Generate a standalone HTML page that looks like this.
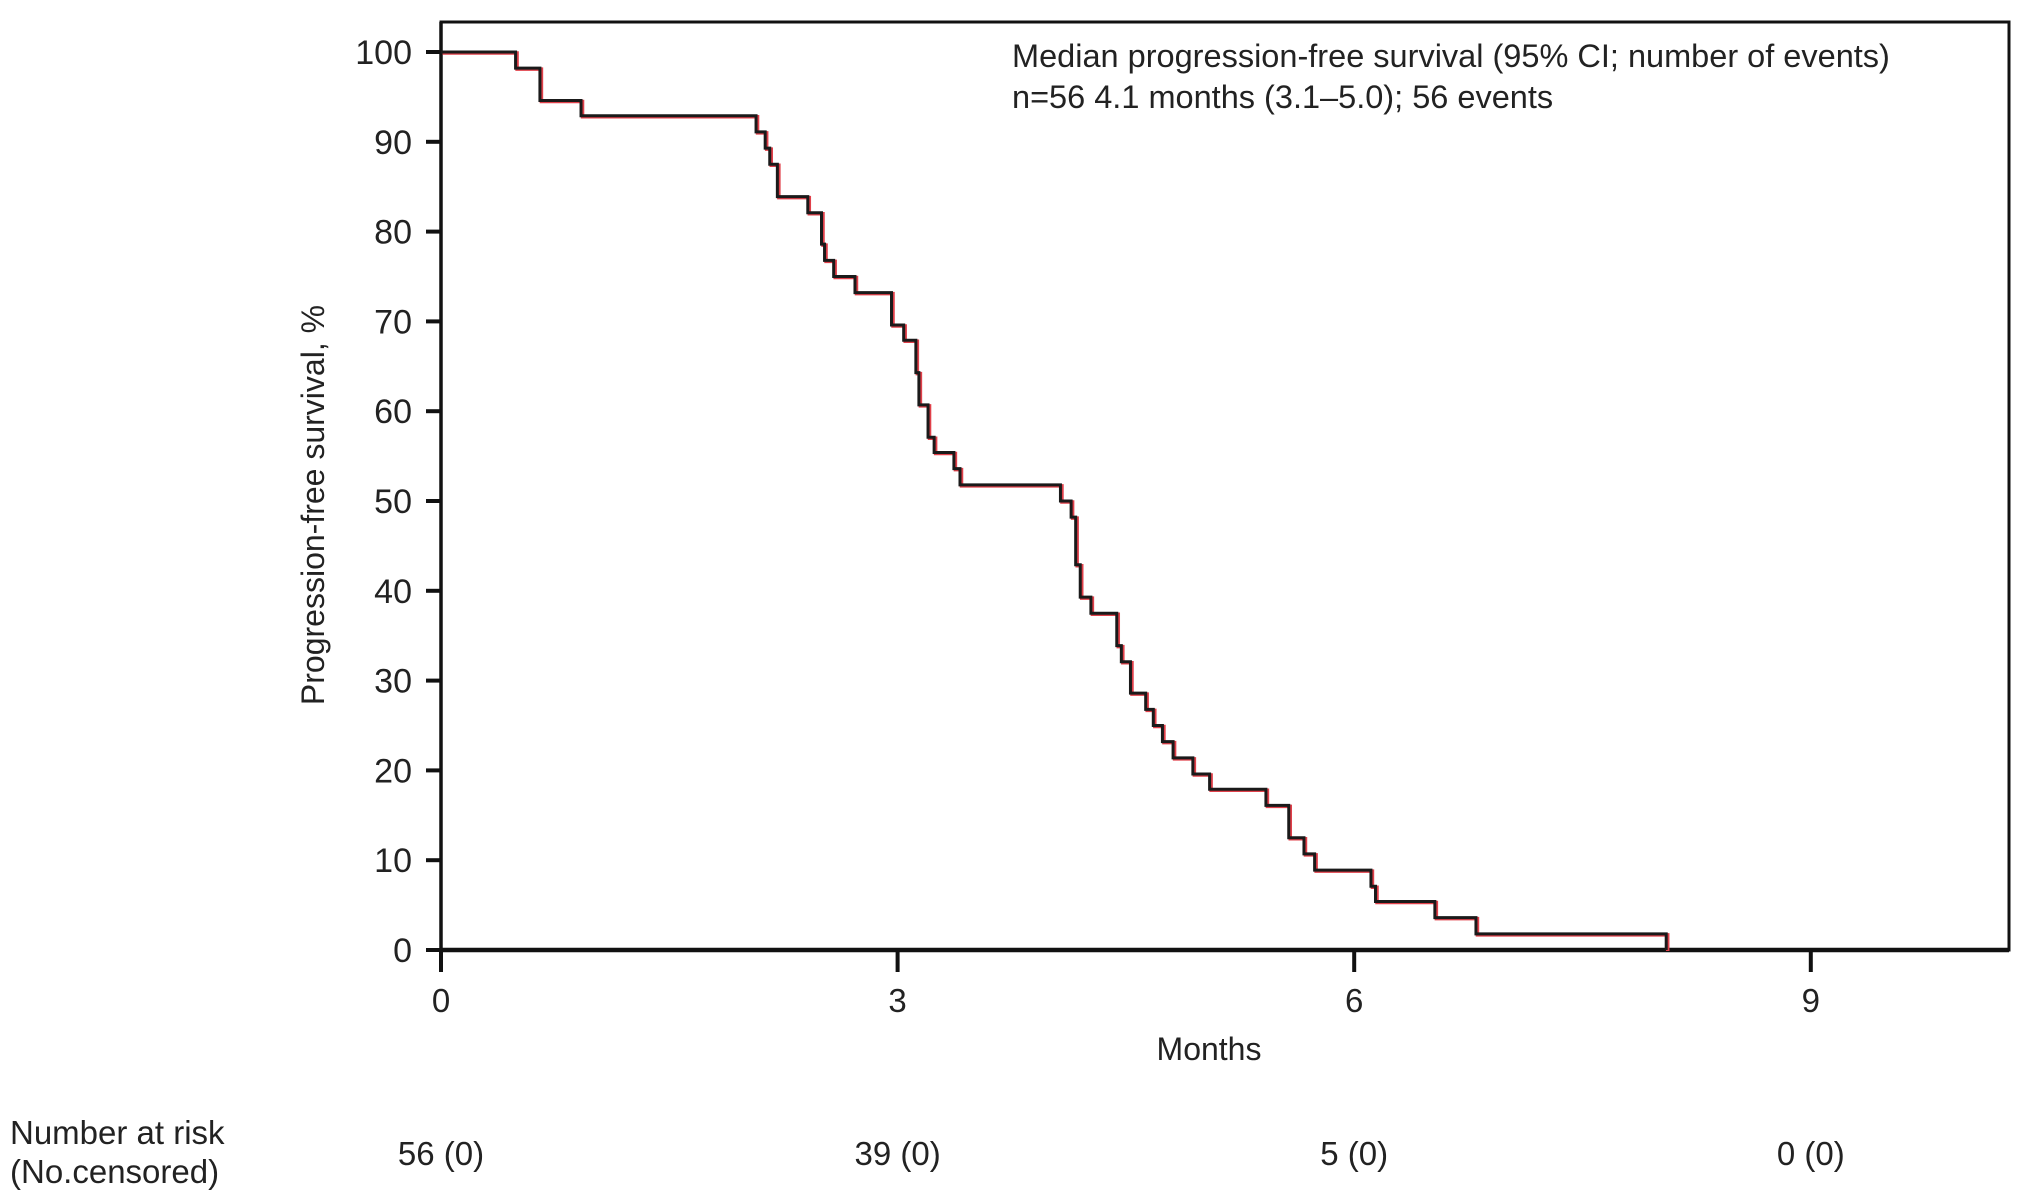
<!DOCTYPE html>
<html><head><meta charset="utf-8"><style>
html,body{margin:0;padding:0;background:#fff;}
svg{display:block;font-family:"Liberation Sans",Arial,sans-serif;}
</style></head><body>
<svg id="chart" width="2032" height="1203" viewBox="0 0 2032 1203">
<rect x="0" y="0" width="2032" height="1203" fill="#fff"/>
<rect x="441" y="22" width="1568" height="928" fill="none" stroke="#111" stroke-width="3"/>
<line x1="441" y1="950" x2="2009" y2="950" stroke="#111" stroke-width="4.5"/>
<line x1="441" y1="22" x2="441" y2="950" stroke="#111" stroke-width="3.5"/>
<g id="yticks"></g>
<g id="xticks"></g>
<g id="curve"></g>
<text x="324" y="505" font-size="32" fill="#222" text-anchor="middle" transform="rotate(-90 324 505)">Progression-free survival, %</text>
<text x="1209" y="1060" font-size="32" fill="#222" text-anchor="middle">Months</text>
<text x="1012" y="67" font-size="32.5" fill="#222">Median progression-free survival (95% CI; number of events)</text>
<text x="1012" y="108" font-size="32.5" fill="#222">n=56 4.1 months (3.1–5.0); 56 events</text>
<text x="10" y="1144" font-size="33" fill="#222">Number at risk</text>
<text x="10" y="1183" font-size="33" fill="#222">(No.censored)</text>
<g id="risk"></g>
</svg>
<script>
const yTicks=[0,10,20,30,40,50,60,70,80,90,100];
const xTicks=[0,3,6,9];
const stepTimes=[0,0.49,0.65,0.92,2.07,2.13,2.16,2.21,2.41,2.50,2.52,2.58,2.72,2.96,3.04,3.12,3.14,3.20,3.24,3.37,3.41,4.07,4.14,4.17,4.20,4.27,4.44,4.47,4.53,4.63,4.68,4.74,4.81,4.94,5.05,5.42,5.57,5.67,5.74,6.11,6.14,6.53,6.80,8.05];
const stepSurv=[100,98.2,94.6,92.9,91.1,89.3,87.5,83.9,82.1,78.6,76.8,75.0,73.2,69.6,67.9,64.3,60.7,57.1,55.4,53.6,51.8,50.0,48.2,42.9,39.3,37.5,33.9,32.1,28.6,26.8,25.0,23.2,21.4,19.6,17.9,16.1,12.5,10.7,8.9,7.1,5.4,3.6,1.8,0];
const riskTimes=[0,3,6,9];
const riskLabels=["56 (0)","39 (0)","5 (0)","0 (0)"];

const NS="http://www.w3.org/2000/svg";
const X=m=>441+m*152.2;
const Y=v=>950-v*8.98;
function mk(tag,attrs,parent){const e=document.createElementNS(NS,tag);for(const k in attrs)e.setAttribute(k,attrs[k]);parent.appendChild(e);return e;}
const yg=document.getElementById('yticks');
yTicks.forEach(v=>{
  const l=mk('line',{x1:426,x2:441,y1:Y(v),y2:Y(v),stroke:'#111','stroke-width':4},yg);
  
  
  const t=mk('text',{x:412,y:Y(v)+12,'font-size':34,'text-anchor':'end',fill:'#222'},yg);
  t.textContent=v;
  
  
});
const xg=document.getElementById('xticks');
xTicks.forEach(v=>{
  const l=mk('line',{x1:X(v),x2:X(v),y1:950,y2:972,stroke:'#111','stroke-width':4},xg);
  
  
  const t=mk('text',{x:X(v),y:1012,'font-size':33,'text-anchor':'middle',fill:'#222'},xg);
  t.textContent=v;
  
  
});
let d='M'+X(stepTimes[0])+' '+Y(stepSurv[0]);
for(let i=1;i<stepTimes.length;i++){d+=' H'+X(stepTimes[i])+' V'+Y(stepSurv[i]);}
const cg=document.getElementById('curve');
const p1=mk('path',{d:d,fill:'none',stroke:'#e0404a','stroke-width':3.5,transform:'translate(1.5,1)'},cg);


const p2=mk('path',{d:d,fill:'none',stroke:'#1a1a1a','stroke-width':3},cg);


const rg=document.getElementById('risk');
riskTimes.forEach((m,i)=>{
  const t=mk('text',{x:X(m),y:1165,'font-size':33,'text-anchor':'middle',fill:'#222'},rg);
  t.textContent=riskLabels[i];
  
  
});
</script>
</body></html>
